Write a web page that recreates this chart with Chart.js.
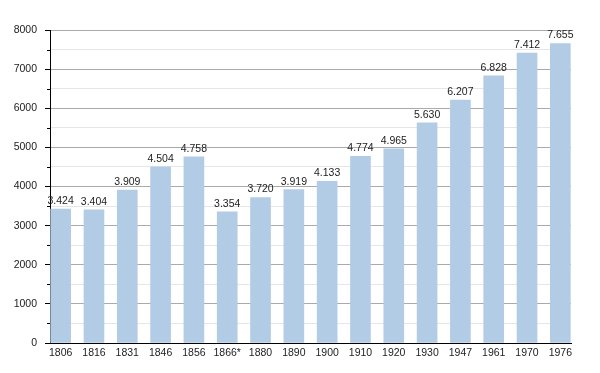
<!DOCTYPE html>
<html>
<head>
<meta charset="utf-8">
<script src="https://cdn.jsdelivr.net/npm/chart.js@4/dist/chart.umd.min.js"></script>
<style>
  html, body { margin: 0; padding: 0; background: #fff; }
  #wrap { width: 600px; height: 373px; }
</style>
</head>
<body>
<div id="wrap"><canvas id="popChart" width="600" height="373"></canvas></div>
<script>
const years = ["1806", "1816", "1831", "1846", "1856", "1866*", "1880", "1890",
  "1900", "1910", "1920", "1930", "1947", "1961", "1970", "1976"];
const population = [3424, 3404, 3909, 4504, 4758, 3354, 3720, 3919,
  4133, 4774, 4965, 5630, 6207, 6828, 7412, 7655];
const yTicks = [0, 1000, 2000, 3000, 4000, 5000, 6000, 7000, 8000];

const FONT = "'Liberation Sans', Arial, Helvetica, sans-serif";

// 3424 -> "3.424"
function fmt(v) {
  return Math.floor(v / 1000) + "." + String(v % 1000).padStart(3, "0");
}

const valueLabels = {
  id: "valueLabels",
  afterDatasetsDraw(chart) {
    const ctx = chart.ctx;
    const meta = chart.getDatasetMeta(0);
    ctx.save();
    ctx.font = "10.5px " + FONT;
    ctx.fillStyle = "#222";
    ctx.textAlign = "center";
    ctx.textBaseline = "alphabetic";
    meta.data.forEach((bar, i) => {
      ctx.fillText(fmt(population[i]), bar.x, bar.y - 5);
    });
    ctx.restore();
  },
  afterDraw(chart) {
    // small minor ticks on the y axis
    const ctx = chart.ctx;
    const y = chart.scales.y;
    const left = chart.chartArea.left;
    ctx.save();
    ctx.strokeStyle = "#000";
    ctx.lineWidth = 1;
    for (let v = 500; v < 8000; v += 1000) {
      const py = Math.round(y.getPixelForValue(v)) + 0.5;
      ctx.beginPath();
      ctx.moveTo(left - 3, py);
      ctx.lineTo(left, py);
      ctx.stroke();
    }
    ctx.restore();
  }
};

new Chart(document.getElementById("popChart"), {
  type: "bar",
  data: {
    datasets: [{
      data: population.map((v, i) => ({ x: i, y: v })),
      backgroundColor: "#b3cce6",
      borderWidth: 0,
      barThickness: 20
    }]
  },
  options: {
    responsive: false,
    animation: false,
    layout: { padding: { left: 0, right: 29, top: 30, bottom: 0 } },
    plugins: { legend: { display: false }, tooltip: { enabled: false } },
    scales: {
      x: {
        type: "linear",
        offset: false,
        min: -0.32,
        max: 15.32,
        grid: { display: false, drawTicks: false },
        border: { display: true, color: "#000", width: 1 },
        ticks: {
          stepSize: 1,
          includeBounds: false,
          autoSkip: false,
          maxRotation: 0,
          padding: 4,
          color: "#222",
          font: { family: FONT, size: 10.5 },
          callback: (v) => (Number.isInteger(v) ? years[v] : "")
        },
        afterFit(scale) { scale.height = 30; }
      },
      y: {
        min: 0,
        max: 8000,
        grid: {
          color: (c) => (c.tick && c.tick.value % 1000 === 0 ? "#aaaaaa" : "#e6e6e6"),
          tickColor: (c) => (c.tick && c.tick.value % 1000 === 0 ? "#000" : "rgba(0,0,0,0)"),
          tickLength: 5,
          drawTicks: true
        },
        border: { display: true, color: "#000", width: 1 },
        ticks: {
          stepSize: 500,
          padding: 8,
          color: "#222",
          font: { family: FONT, size: 10.5 },
          callback: (v) => (yTicks.includes(v) ? String(v) : "")
        },
        afterFit(scale) { scale.width = 50; }
      }
    }
  },
  plugins: [valueLabels]
});
</script>
</body>
</html>
